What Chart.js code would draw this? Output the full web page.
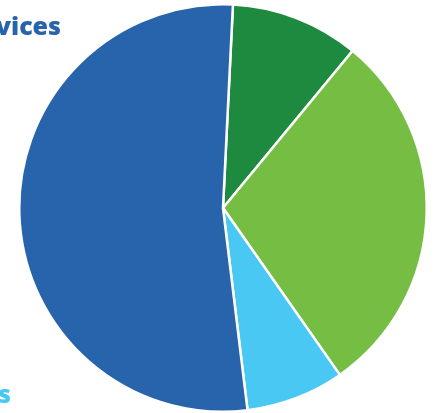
<!DOCTYPE html>
<html><head><meta charset="utf-8">
<script src="https://cdn.jsdelivr.net/npm/chart.js@4"></script>
<style>html,body{margin:0;padding:0;background:#fff;}#wrap{width:434px;height:413px;position:relative;}</style>
</head><body><div id="wrap"><canvas id="c" width="434" height="413"></canvas></div>
<script>
const categories = ["Manufacturing", "Retail", "Products", "Services"];
const values = [10.2, 29.3, 7.8, 52.7];
const colors = ["#1D8A3F", "#76BE43", "#48C8F2", "#2864AB"];
const outerLabels = [
  {text: "Services", color: "#2864AB", x: 61, y: 35},
  {text: "Products", color: "#48C8F2", x: 11, y: 403}
];

const labelPlugin = {
  id: 'outerLabels',
  afterDraw(chart) {
    const ctx = chart.ctx;
    ctx.save();
    ctx.font = "800 25px 'Open Sans', sans-serif";
    ctx.textAlign = 'right';
    ctx.textBaseline = 'alphabetic';
    outerLabels.forEach(l => { ctx.fillStyle = l.color; ctx.fillText(l.text, l.x, l.y); });
    ctx.restore();
  }
};

new Chart(document.getElementById('c'), {
  type: 'pie',
  data: { labels: categories, datasets: [{ data: values, backgroundColor: colors, borderColor: '#fff', borderWidth: 2.5 }] },
  options: {
    responsive: false, animation: false, rotation: 2.8,
    layout: { padding: { left: 17, right: 5, top: 3, bottom: -3 } },
    plugins: { legend: { display: false }, tooltip: { enabled: false } }
  },
  plugins: [labelPlugin]
});
</script></body></html>
